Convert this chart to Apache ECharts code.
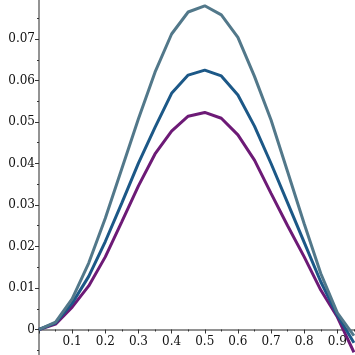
<!DOCTYPE html>
<html>
<head>
<meta charset="utf-8">
<script src="https://cdn.jsdelivr.net/npm/echarts@6/dist/echarts.min.js"></script>
<style>html,body{margin:0;padding:0;background:#fff}#c{width:355px;height:355px}</style>
</head>
<body>
<div id="c"></div>
<script>
const xValues = [0,0.05,0.1,0.15,0.2,0.25,0.3,0.35,0.4,0.45,0.5,0.55,0.6,0.65,0.7,0.75,0.8,0.85,0.9,0.95];
const topCurve = [0,0.0018,0.0074,0.0160,0.0268,0.0388,0.0508,0.0620,0.0712,0.0765,0.0780,0.0758,0.0704,0.0610,0.0505,0.0380,0.0255,0.0135,0.0040,-0.0015];
const midCurve = [0,0.0016,0.0063,0.0128,0.0212,0.0305,0.0401,0.0487,0.0569,0.0613,0.0625,0.0611,0.0565,0.0490,0.0400,0.0305,0.0210,0.0115,0.0035,-0.0032];
const lowCurve = [0,0.0013,0.0054,0.0105,0.0175,0.0260,0.0346,0.0423,0.0478,0.0514,0.0523,0.0509,0.0469,0.0408,0.0328,0.0250,0.0175,0.0095,0.0030,-0.0055];
const xTicks = [0.1,0.2,0.3,0.4,0.5,0.6,0.7,0.8,0.9];
const yTicks = [0,0.01,0.02,0.03,0.04,0.05,0.06,0.07];

const chart = echarts.init(document.getElementById('c'), null, {renderer:'canvas'});
const pair = arr => xValues.map((x,i)=>[x,arr[i]]);
const near = (v, list) => list.find(t => Math.abs(t - v) < 1e-9);
const font = {fontFamily:'DejaVu Serif', fontSize:12, color:'#111'};
const axisLineStyle = {color:'#6f6f6f', width:1.5};
chart.setOption({
  animation:false,
  grid:[
    {left:39, top:-2.5, width:331.5, height:373.5, containLabel:false, outerBoundsMode:'none'},
    {left:39, top:-2.5, width:331.5, height:332, containLabel:false, outerBoundsMode:'none'}
  ],
  xAxis:[
    {type:'value', gridIndex:0, min:0, max:1, interval:0.1, show:false},
    {type:'value', gridIndex:1, min:0, max:1, interval:0.1, position:'bottom',
      axisLine:{onZero:false, lineStyle:axisLineStyle},
      axisTick:{show:true, length:4, lineStyle:{color:'#333'}},
      minorTick:{show:true, splitNumber:2, length:2, lineStyle:{color:'#333'}},
      splitLine:{show:false},
      axisLabel:Object.assign({margin:6, formatter:v=>{const t=near(v,xTicks);return t===undefined?'':String(t);}}, font)
    }
  ],
  yAxis:[
    {type:'value', gridIndex:0, min:-0.01, max:0.08, interval:0.01,
      axisLine:{onZero:false, lineStyle:axisLineStyle},
      axisTick:{show:true, length:4, lineStyle:{color:'#333'}},
      minorTick:{show:true, splitNumber:2, length:2, lineStyle:{color:'#333'}},
      splitLine:{show:false},
      axisLabel:Object.assign({margin:4, formatter:v=>{const t=near(v,yTicks);return t===undefined?'':(t===0?'0':t.toFixed(2));}}, font)
    },
    {type:'value', gridIndex:1, min:0, max:0.08, show:false}
  ],
  series:[
    {type:'line', xAxisIndex:0, yAxisIndex:0, data:pair(lowCurve), showSymbol:false, lineStyle:{color:'#6d1a76', width:3}, z:3},
    {type:'line', xAxisIndex:0, yAxisIndex:0, data:pair(midCurve), showSymbol:false, lineStyle:{color:'#1c5887', width:3}, z:4},
    {type:'line', xAxisIndex:0, yAxisIndex:0, data:pair(topCurve), showSymbol:false, lineStyle:{color:'#52788a', width:3}, z:5}
  ]
});
</script>
</body>
</html>
